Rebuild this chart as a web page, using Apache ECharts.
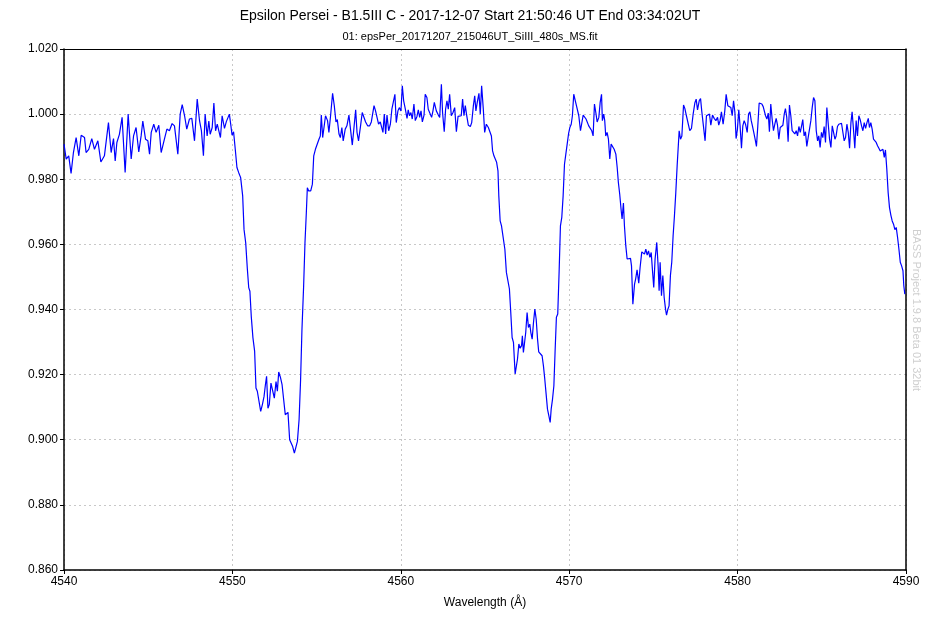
<!DOCTYPE html>
<html>
<head>
<meta charset="utf-8">
<script src="https://cdn.jsdelivr.net/npm/echarts@6/dist/echarts.min.js"></script>
<style>html,body{margin:0;padding:0;background:#fff}#c{width:940px;height:620px}</style>
</head>
<body>
<div id="c"></div>
<script>
const titleText = "Epsilon Persei - B1.5III C - 2017-12-07 Start 21:50:46 UT End 03:34:02UT";
const subtitleText = "01: epsPer_20171207_215046UT_SiIII_480s_MS.fit";
const xAxisName = "Wavelength (Å)";
const watermarkText = "BASS Project 1.9.8 Beta 01 32bit";
const xTicks = [4540, 4550, 4560, 4570, 4580, 4590];
const yTicks = [0.860, 0.880, 0.900, 0.920, 0.940, 0.960, 0.980, 1.000, 1.020];

const wavelength = [
4540.00,4540.13,4540.28,4540.42,4540.56,4540.72,4540.88,4541.02,4541.22,4541.31,4541.47,4541.65,4541.81,4542.01,4542.19,4542.40,4542.64,4542.80,4542.94,4543.04,4543.14,4543.29,4543.45,4543.63,4543.81,4543.99,4544.13,4544.28,4544.44,4544.58,4544.68,4544.84,4544.98,4545.08,4545.18,4545.33,4545.47,4545.63,4545.77,4545.97,4546.11,4546.26,4546.42,4546.56,4546.76,4546.90,4547.02,4547.16,4547.29,4547.45,4547.59,4547.75,4547.91,4548.05,4548.16,4548.28,4548.38,4548.50,4548.60,4548.68,4548.80,4548.90,4549.00,4549.10,4549.19,4549.29,4549.39,4549.53,
4549.64,4549.74,4549.82,4549.90,4549.98,4550.07,4550.17,4550.27,4550.37,4550.49,4550.61,4550.69,4550.79,4550.89,4550.97,4551.04,4551.12,4551.22,4551.32,4551.40,4551.48,4551.58,4551.68,4551.78,4551.88,4551.96,4552.03,4552.11,4552.19,4552.29,4552.39,4552.49,4552.59,4552.67,4552.75,4552.85,4552.95,4553.04,4553.14,4553.22,4553.30,4553.40,4553.50,4553.58,4553.68,4553.78,4553.86,4553.96,4554.05,4554.13,4554.23,4554.31,4554.39,4554.45,4554.53,4554.65,4554.75,4554.83,4554.93,4555.02,4555.14,4555.22,4555.28,4555.36,
4555.42,4555.53,4555.65,4555.73,4555.83,4555.95,4556.05,4556.15,4556.23,4556.33,4556.41,4556.50,4556.58,4556.70,4556.80,4556.92,4557.02,4557.12,4557.22,4557.32,4557.40,4557.49,4557.61,4557.71,4557.81,4557.91,4558.03,4558.15,4558.25,4558.35,4558.41,4558.50,4558.58,4558.68,4558.78,4558.88,4558.94,4559.02,4559.10,4559.18,4559.28,4559.38,4559.47,4559.57,4559.65,4559.73,4559.83,4559.91,4560.01,4560.09,4560.17,4560.27,4560.37,4560.44,4560.52,4560.60,4560.68,4560.78,4560.86,4560.96,4561.04,4561.12,4561.20,4561.28,4561.38,4561.45,4561.55,4561.63,4561.71,4561.83,4561.91,4561.99,4562.11,4562.23,4562.31,4562.41,4562.48,4562.58,4562.66,4562.74,4562.82,4562.90,4563.00,4563.10,4563.20,4563.30,4563.40,4563.49,4563.59,4563.67,4563.75,4563.83,4563.91,4564.01,4564.13,4564.21,4564.31,4564.39,4564.46,4564.54,4564.64,4564.72,4564.80,4564.90,4564.98,4565.08,4565.20,4565.28,4565.38,4565.45,4565.53,4565.61,4565.69,4565.77,
4565.82,4565.90,4565.98,4566.08,4566.18,4566.27,4566.37,4566.45,4566.53,4566.61,4566.69,4566.79,4566.87,4566.93,4567.01,4567.09,4567.17,4567.22,4567.28,4567.34,4567.42,4567.50,4567.58,4567.66,4567.72,4567.80,4567.88,4567.96,4568.04,4568.12,4568.19,4568.29,4568.39,4568.47,4568.55,4568.63,4568.71,4568.79,4568.87,4568.93,4569.01,4569.09,4569.16,4569.24,4569.32,4569.40,4569.48,4569.56,4569.64,4569.72,4569.80,4569.88,4569.96,4570.04,4570.12,4570.19,4570.27,4570.35,4570.43,4570.51,
4570.57,4570.67,4570.75,4570.83,4570.93,4571.00,4571.08,4571.16,4571.24,4571.34,4571.42,4571.50,4571.58,4571.66,4571.76,4571.84,4571.92,4571.97,4572.05,4572.11,4572.17,4572.25,4572.33,4572.41,4572.49,4572.57,4572.67,4572.77,4572.85,4572.92,4573.00,4573.08,4573.14,4573.22,4573.28,4573.36,4573.44,4573.54,4573.64,4573.70,4573.78,4573.88,4573.95,4574.03,4574.13,4574.21,4574.31,4574.39,4574.47,4574.55,4574.63,4574.71,4574.79,4574.87,4574.94,4575.02,4575.10,4575.20,4575.28,4575.34,4575.40,4575.48,4575.56,4575.64,4575.72,4575.78,4575.86,4575.93,4576.01,4576.09,4576.17,4576.25,4576.33,4576.41,4576.49,
4576.53,4576.61,4576.69,4576.79,4576.87,4576.96,4577.06,4577.16,4577.26,4577.36,4577.46,4577.54,4577.62,4577.72,4577.80,4577.87,4577.97,4578.07,4578.15,4578.25,4578.33,4578.41,4578.51,4578.61,4578.71,4578.81,4578.88,4578.96,4579.04,4579.14,4579.24,4579.32,4579.42,4579.50,4579.60,4579.68,4579.76,4579.84,4579.91,4579.99,4580.07,4580.15,4580.23,4580.31,4580.39,4580.47,4580.57,4580.65,4580.73,4580.81,4580.88,4580.96,4581.04,4581.12,4581.20,4581.28,4581.36,4581.44,4581.52,4581.58,4581.66,4581.74,4581.82,4581.89,4581.97,4582.05,4582.13,4582.21,4582.29,4582.37,4582.45,4582.53,4582.61,4582.69,4582.77,4582.84,4582.92,4583.00,4583.08,4583.16,4583.24,4583.32,4583.40,4583.48,4583.56,4583.64,4583.72,4583.80,4583.87,4583.95,4584.03,4584.11,4584.19,4584.27,4584.35,4584.43,4584.51,4584.59,4584.67,4584.75,4584.82,4584.90,4584.98,4585.06,4585.14,4585.22,4585.30,4585.38,4585.46,4585.54,4585.62,4585.70,4585.78,4585.85,4585.93,4586.01,4586.09,4586.17,4586.25,4586.33,4586.41,4586.49,4586.57,4586.65,4586.73,4586.80,4586.88,4586.96,4587.04,4587.12,4587.20,4587.28,4587.36,4587.44,4587.52,4587.60,4587.68,4587.76,4587.83,4587.91,4587.99,4588.07,4588.15,4588.23,4588.31,4588.39,4588.47,4588.55,4588.63,4588.71,4588.78,4588.86,4588.94,4589.02,4589.10,4589.18,4589.26,4589.34,4589.42,4589.50,4589.58,4589.66,4589.74,4589.82,4589.87,4589.93
];

const flux = [
0.9908,0.9862,0.9872,0.9818,0.9882,0.9928,0.9872,0.9935,0.9928,0.9882,0.9892,0.9925,0.9892,0.9918,0.9853,0.9872,0.9974,0.9882,0.9925,0.9856,0.9913,0.9938,0.9990,0.9821,1.0000,0.9862,0.9933,0.9959,0.9884,0.9933,0.9979,0.9923,0.9918,0.9877,0.9944,0.9969,0.9944,0.9966,0.9882,0.9925,0.9954,0.9949,0.9971,0.9964,0.9877,1.0000,1.0029,0.9995,0.9954,0.9985,0.9987,0.9918,1.0046,0.9979,0.9949,0.9872,1.0000,0.9933,0.9979,0.9938,0.9959,1.0034,0.9949,0.9969,0.9964,0.9928,0.9995,0.9956,
0.9977,0.9983,1.0000,0.9969,0.9935,0.9946,0.9892,0.9836,0.9821,0.9805,0.9749,0.9646,0.9605,0.9523,0.9467,0.9456,0.9379,0.9313,0.9272,0.9159,0.9149,0.9152,0.9087,0.9108,0.9133,0.9169,0.9195,0.9097,0.9108,0.9174,0.9169,0.9128,0.9179,0.9149,0.9208,0.9192,0.9169,0.9172,0.9077,0.9072,0.9084,0.9000,0.9000,0.8979,0.8959,0.8979,0.8995,0.9062,0.9185,0.9338,0.9472,0.9605,0.9697,0.9774,0.9764,0.9764,0.9785,0.9872,0.9892,0.9894,0.9923,0.9933,0.9997,0.9928,
0.9933,0.9995,0.9980,0.9944,0.9995,1.0064,1.0026,0.9976,0.9983,0.9939,0.9928,0.9959,0.9918,0.9954,0.9964,0.9997,0.9997,0.9905,0.9959,1.0013,0.9944,0.9918,0.9964,1.0005,1.0010,0.9976,0.9964,0.9964,0.9976,0.9980,1.0026,1.0010,1.0005,0.9969,0.9976,0.9980,0.9944,1.0000,0.9939,0.9997,0.9949,0.9969,1.0015,1.0041,1.0061,0.9974,1.0010,1.0020,1.0010,1.0087,1.0041,1.0015,0.9987,1.0013,0.9995,1.0005,0.9985,1.0031,0.9980,0.9993,1.0013,0.9990,1.0010,0.9976,0.9997,1.0061,1.0051,1.0015,1.0015,0.9990,1.0010,1.0036,1.0010,0.9997,0.9990,1.0092,1.0005,0.9946,1.0015,1.0041,1.0015,1.0061,0.9995,1.0005,1.0020,0.9946,0.9993,0.9997,0.9995,1.0046,0.9995,1.0026,0.9997,0.9966,0.9962,0.9974,1.0026,1.0056,1.0010,1.0036,1.0064,1.0000,1.0087,1.0015,0.9944,0.9969,0.9959,0.9954,0.9933,0.9887,0.9872,0.9877,0.9852,0.9826,
0.9749,0.9672,0.9657,0.9657,0.9585,0.9514,0.9512,0.9463,0.9391,0.9314,0.9299,0.9202,0.9202,0.9248,0.9294,0.9281,0.9289,0.9319,0.9268,0.9294,0.9330,0.9391,0.9345,0.9355,0.9330,0.9309,0.9360,0.9401,0.9370,0.9309,0.9270,0.9266,0.9258,0.9227,0.9186,0.9140,0.9094,0.9074,0.9053,0.9094,0.9125,0.9166,0.9268,0.9376,0.9386,0.9514,0.9657,0.9683,0.9749,0.9846,0.9877,0.9908,0.9939,0.9959,0.9969,0.9995,1.0061,1.0064,1.0026,1.0026,
0.9995,0.9949,0.9944,0.9997,1.0000,0.9985,0.9990,0.9964,0.9964,0.9949,0.9933,1.0031,1.0005,0.9976,0.9990,1.0036,1.0061,0.9980,1.0000,0.9980,0.9933,0.9944,0.9923,0.9862,0.9908,0.9903,0.9892,0.9877,0.9836,0.9790,0.9754,0.9708,0.9678,0.9727,0.9657,0.9596,0.9555,0.9558,0.9557,0.9534,0.9416,0.9478,0.9495,0.9522,0.9481,0.9529,0.9577,0.9580,0.9570,0.9585,0.9567,0.9580,0.9560,0.9575,0.9524,0.9468,0.9555,0.9606,0.9534,0.9458,0.9545,0.9442,0.9504,0.9437,0.9401,0.9383,0.9401,0.9411,0.9504,0.9545,0.9626,0.9688,0.9759,0.9841,0.9913,
0.9949,0.9923,0.9933,1.0028,1.0017,0.9995,0.9990,0.9949,0.9956,1.0000,1.0034,1.0046,1.0013,1.0041,1.0048,1.0010,0.9964,0.9918,0.9995,0.9997,1.0000,0.9966,0.9997,0.9987,0.9980,0.9990,0.9966,0.9980,1.0007,0.9969,1.0010,1.0061,1.0026,1.0031,1.0020,0.9995,1.0041,1.0005,0.9925,0.9954,1.0013,0.9962,0.9895,0.9964,0.9980,0.9969,0.9944,1.0000,1.0007,0.9980,0.9964,0.9944,0.9923,0.9901,0.9964,1.0034,1.0028,1.0031,1.0023,1.0026,0.9995,0.9985,1.0003,0.9946,1.0031,0.9985,0.9949,0.9969,0.9987,0.9966,0.9923,0.9959,0.9962,0.9966,1.0000,1.0017,0.9990,0.9915,1.0028,0.9995,0.9949,0.9944,0.9939,0.9949,0.9933,0.9962,0.9944,0.9964,0.9983,0.9933,0.9946,0.9901,0.9928,0.9933,0.9980,1.0020,1.0051,1.0041,0.9949,0.9918,0.9933,0.9898,0.9944,0.9928,0.9962,0.9913,1.0020,1.0015,0.9923,0.9898,0.9964,0.9969,0.9923,0.9933,0.9962,0.9969,0.9974,0.9972,0.9969,0.9918,0.9928,0.9969,0.9944,0.9895,0.9974,1.0007,0.9954,0.9895,0.9980,0.9933,0.9995,0.9983,0.9964,0.9949,0.9974,0.9956,0.9974,0.9987,0.9959,0.9974,0.9954,0.9923,0.9921,0.9913,0.9903,0.9895,0.9887,0.9892,0.9892,0.9867,0.9890,0.9831,0.9759,0.9713,0.9690,0.9672,0.9662,0.9645,0.9652,0.9621,0.9585,0.9545,0.9534,0.9519,0.9473,0.9447
];

const seriesData = wavelength.map((w, i) => [w, flux[i]]);
const FONT = "'Liberation Sans', Arial, sans-serif";
const chart = echarts.init(document.getElementById('c'), null, {renderer: 'canvas'});

const gridLine = {show: true, lineStyle: {color: '#c8c8c8', type: [2, 3], width: 1}};
const xMin = xTicks[0], xMax = xTicks[xTicks.length - 1];
const yMin = yTicks[0], yMax = yTicks[yTicks.length - 1];

chart.setOption({
  animation: false,
  backgroundColor: '#ffffff',
  title: {
    text: titleText,
    subtext: subtitleText,
    left: 'center',
    top: 4,
    itemGap: 8,
    textStyle: {fontFamily: FONT, fontSize: 14, fontWeight: 'normal', color: '#000'},
    subtextStyle: {fontFamily: FONT, fontSize: 11, color: '#000'}
  },
  grid: {left: 64, right: 34, top: 49, bottom: 50},
  xAxis: [{
    type: 'value',
    min: xMin, max: xMax, interval: 10,
    name: xAxisName, nameLocation: 'middle', nameGap: 27,
    nameTextStyle: {fontFamily: FONT, fontSize: 12, color: '#000'},
    axisLine: {show: true, lineStyle: {color: '#000', width: 1.5}},
    axisTick: {show: true, length: 4, lineStyle: {color: '#000'}},
    axisLabel: {fontFamily: FONT, fontSize: 12, color: '#000', margin: 6, formatter: v => String(v)},
    splitLine: gridLine
  }, {
    type: 'value', position: 'top',
    min: xMin, max: xMax, interval: 10,
    axisLine: {show: true, onZero: false, lineStyle: {color: '#000', width: 1}},
    axisTick: {show: false}, axisLabel: {show: false}, splitLine: {show: false}
  }],
  yAxis: [{
    type: 'value',
    min: yMin, max: yMax, interval: 0.02,
    axisLine: {show: true, lineStyle: {color: '#000', width: 1.5}},
    axisTick: {show: true, length: 4, lineStyle: {color: '#000'}},
    axisLabel: {fontFamily: FONT, fontSize: 12, color: '#000', margin: 6, formatter: v => v.toFixed(3)},
    splitLine: gridLine
  }, {
    type: 'value', position: 'right',
    min: yMin, max: yMax, interval: 0.02,
    axisLine: {show: true, onZero: false, lineStyle: {color: '#000', width: 1.5}},
    axisTick: {show: false}, axisLabel: {show: false}, splitLine: {show: false}
  }],
  graphic: [{
    type: 'text',
    x: 911, y: 229,
    rotation: -Math.PI / 2,
    style: {text: watermarkText, fill: '#cfcfcf', font: "11px 'Liberation Sans', Arial, sans-serif", textAlign: 'left', textVerticalAlign: 'bottom'}
  }],
  series: [{
    type: 'line',
    xAxisIndex: 0, yAxisIndex: 0,
    data: seriesData,
    showSymbol: false,
    lineStyle: {color: '#0000ff', width: 1.2},
    z: 3
  }]
});
</script>
</body>
</html>
